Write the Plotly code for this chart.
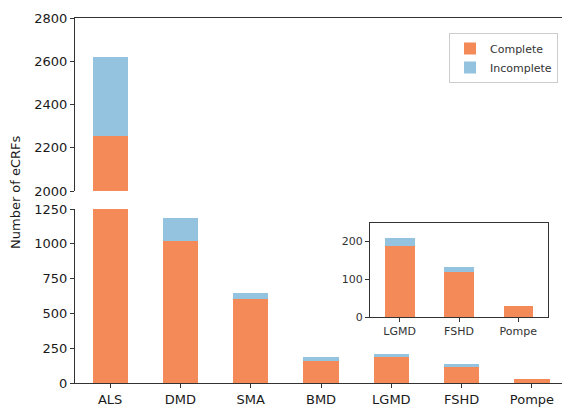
import plotly.graph_objects as go

categories = ["ALS", "DMD", "SMA", "BMD", "LGMD", "FSHD", "Pompe"]
complete = [2255, 1020, 600, 155, 187, 118, 28]
incomplete = [365, 165, 50, 30, 23, 15, 0]

inset_categories = ["LGMD", "FSHD", "Pompe"]
inset_complete = [187, 118, 28]
inset_incomplete = [23, 15, 0]

top_ticks = [2000, 2200, 2400, 2600, 2800]
bottom_ticks = [0, 250, 500, 750, 1000, 1250]
inset_ticks = [0, 100, 200]

ORANGE = "#F58A59"
BLUE = "#93C3DE"
AXC = "#333333"
FONT = "DejaVu Sans"

fig = go.Figure()
xs = list(range(len(categories)))
xi = list(range(len(inset_categories)))

# bottom panel
fig.add_trace(go.Bar(x=xs, y=complete, name="Complete", marker=dict(color=ORANGE, line_width=0),
                     width=0.5, xaxis="x", yaxis="y", legendgroup="c"))
fig.add_trace(go.Bar(x=xs, y=incomplete, name="Incomplete", marker=dict(color=BLUE, line_width=0),
                     width=0.5, xaxis="x", yaxis="y", legendgroup="i"))
# top panel
fig.add_trace(go.Bar(x=xs, y=complete, name="Complete", marker=dict(color=ORANGE, line_width=0),
                     width=0.5, xaxis="x2", yaxis="y2", showlegend=False, legendgroup="c"))
fig.add_trace(go.Bar(x=xs, y=incomplete, name="Incomplete", marker=dict(color=BLUE, line_width=0),
                     width=0.5, xaxis="x2", yaxis="y2", showlegend=False, legendgroup="i"))
# inset
fig.add_trace(go.Bar(x=xi, y=inset_complete, name="Complete", marker=dict(color=ORANGE, line_width=0),
                     width=0.5, xaxis="x3", yaxis="y3", showlegend=False, legendgroup="c"))
fig.add_trace(go.Bar(x=xi, y=inset_incomplete, name="Incomplete", marker=dict(color=BLUE, line_width=0),
                     width=0.5, xaxis="x3", yaxis="y3", showlegend=False, legendgroup="i"))

W, H = 562, 408
L, R, T, B = 75, 0, 18, 25
pw, ph = W - L - R, H - T - B

def px_x(p):
    return (p - L) / pw

def px_y(p):
    return (H - B - p) / ph

xrange = [-0.5, -0.5 + pw / 70.3]

axis_common = dict(showgrid=False, zeroline=False, linecolor=AXC, linewidth=1.2,
                   ticks="outside", tickcolor=AXC, ticklen=4, tickwidth=1.2)

fig.update_layout(
    width=W, height=H,
    margin=dict(l=L, r=R, t=T, b=B),
    barmode="stack",
    plot_bgcolor="white", paper_bgcolor="white",
    font=dict(family=FONT, color="#1a1a1a", size=13),
    xaxis=dict(**axis_common, range=xrange, tickmode="array", tickvals=xs, ticktext=categories,
               showline=True, anchor="y", domain=[0, 1], tickfont=dict(size=13)),
    yaxis=dict(**axis_common, range=[0, 1250], domain=[0, px_y(209)], tickvals=bottom_ticks,
               showline=True, anchor="x", tickfont=dict(size=13)),
    xaxis2=dict(range=xrange, showgrid=False, zeroline=False, showticklabels=False, ticks="",
                showline=True, linecolor=AXC, linewidth=1.2, side="top", anchor="y2",
                matches="x", domain=[0, 1]),
    yaxis2=dict(**axis_common, range=[2000, 2800], domain=[px_y(191), 1], tickvals=top_ticks,
                showline=True, anchor="x2", tickfont=dict(size=13)),
    xaxis3=dict(**axis_common, range=[-0.5, 2.5], domain=[px_x(370), px_x(548)], anchor="y3",
                tickvals=xi, ticktext=inset_categories, showline=True, mirror=True,
                tickfont=dict(size=11, color="#333333")),
    yaxis3=dict(**axis_common, range=[0, 250], domain=[px_y(317), px_y(222.5)], anchor="x3",
                tickvals=inset_ticks, showline=True, mirror=True,
                tickfont=dict(size=11, color="#333333")),
    legend=dict(x=px_x(449), y=px_y(33), xanchor="left", yanchor="top",
                bgcolor="white", bordercolor="#cccccc", borderwidth=1,
                font=dict(size=11, color="#333333"), tracegroupgap=0,
                itemwidth=30),
    showlegend=True,
)

fig.add_annotation(text="Number of eCRFs", xref="paper", yref="paper",
                   x=px_x(15), y=px_y(192), showarrow=False, textangle=-90,
                   font=dict(size=13, color="#1a1a1a"), xanchor="center", yanchor="middle")

fig.write_html("out.html", config={"displayModeBar": False},
               post_script="document.body.style.margin='0';document.body.style.padding='0';")
